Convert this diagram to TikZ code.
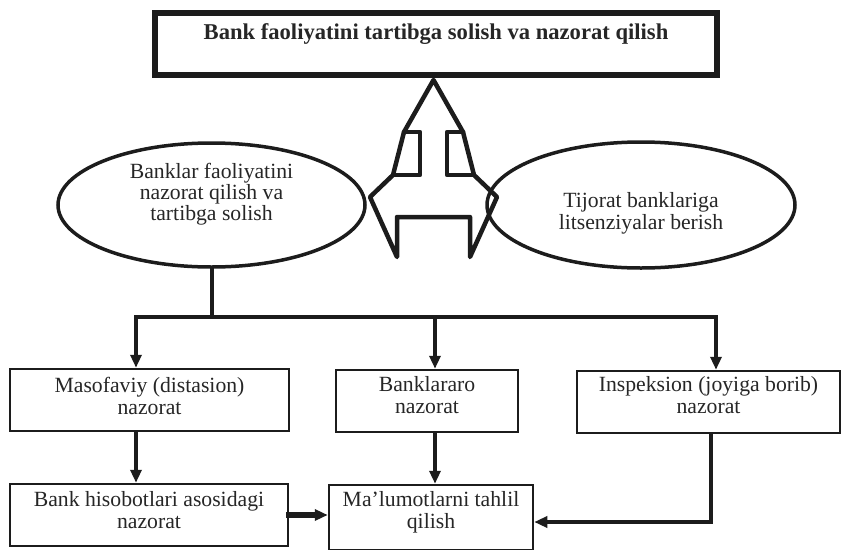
\documentclass[tikz,border=0pt]{standalone}
\usepackage{fontspec}
\setmainfont{Liberation Serif}
\usetikzlibrary{shapes.geometric,arrows.meta}
\definecolor{ink}{HTML}{1C1C1C}
\definecolor{txt}{HTML}{262626}
% shift a centred block of lines vertically without changing the node size
\newcommand{\lifted}[2]{\raisebox{#1}[0pt][0pt]{\begin{tabular}{@{}c@{}}#2\end{tabular}}}

\begin{document}
\begin{tikzpicture}[x=1pt,y=-1pt,
  topbox/.style={draw=ink, line width=6pt, inner sep=0pt,
    minimum width=562pt, minimum height=62pt,
    font=\fontsize{22.6}{24}\selectfont\bfseries, text=txt},
  oval/.style={ellipse, draw=ink, line width=3.5pt, inner sep=0pt,
    font=\fontsize{21.7}{21}\selectfont, text=txt},
  stage/.style={draw=ink, line width=2.5pt, inner sep=0pt,
    font=\fontsize{21.7}{22}\selectfont, text=txt},
  wire/.style={draw=ink, line width=4pt, line cap=rect},
  feed/.style={wire, -{Triangle[length=13pt,width=11pt]}},
  outline/.style={draw=ink, line width=4.5pt, line join=round, line cap=round},
]
\useasboundingbox (0,0) rectangle (843,549);

% title
\node[topbox] (head) at (436,44)
  {\raisebox{5pt}[0pt][0pt]{Bank faoliyatini tartibga solish va nazorat qilish}};

% combined up / left-right arrow under the title
\draw[outline] (433.5,80) -- (404,132) -- (393,175) -- (370,197) -- (397,257)
  -- (397,217) -- (470,217) -- (470,257) -- (497,197) -- (474,175)
  -- (463,132) -- cycle;
\draw[outline] (404,132) -- (420,132) -- (420,175) -- (393,175);
\draw[outline] (463,132) -- (447,132) -- (447,175) -- (474,175);

% the two functions
\node[oval, minimum width=307pt, minimum height=124pt] (left) at (211.5,205)
  {\lifted{4.8pt}{Banklar faoliyatini\\nazorat qilish va\\tartibga solish}};
\node[oval, minimum width=308pt, minimum height=126pt] (right) at (641,205)
  {\lifted{-14.2pt}{Tijorat banklariga\\litsenziyalar berish}};

% kinds of supervision
\node[stage, minimum width=279pt, minimum height=62pt] (b1) at (149.5,400)
  {\lifted{-4.2pt}{Masofaviy (distasion)\\nazorat}};
\node[stage, minimum width=182pt, minimum height=62pt] (b2) at (427,401)
  {\lifted{-2.7pt}{Banklararo\\nazorat}};
\node[stage, minimum width=263pt, minimum height=62pt] (b3) at (708.5,402)
  {\lifted{-1.7pt}{Inspeksion (joyiga borib)\\nazorat}};
\node[stage, minimum width=278pt, minimum height=62pt] (b4) at (149,515)
  {\lifted{-3.7pt}{Bank hisobotlari asosidagi\\nazorat}};
\node[stage, minimum width=204pt, minimum height=65pt] (b5) at (431,517.5)
  {\lifted{-1.2pt}{Ma'lumotlarni tahlil\\qilish}};

% branching bus
\coordinate (j1) at (136,317);
\coordinate (j2) at (435,317);
\coordinate (j3) at (716,317);
\coordinate (k) at (711,522);

\draw[wire] (left.south) -- (left.south |- j1);
\draw[wire] (j1) -- (j3);
\draw[feed] (j1) -- (j1 |- b1.north);
\draw[feed] (j2) -- (j2 |- b2.north);
\draw[feed] (j3) -- (j3 |- b3.north);

% lower level
\draw[feed] (j1 |- b1.south) -- (j1 |- b4.north);
\draw[feed] (j2 |- b2.south) -- (j2 |- b5.north);
\draw[feed, line width=6pt] (b4.east) -- (b4.east -| b5.west);
\draw[feed] (k |- b3.south) -- (k) -- (k -| b5.east);
\end{tikzpicture}
\end{document}
